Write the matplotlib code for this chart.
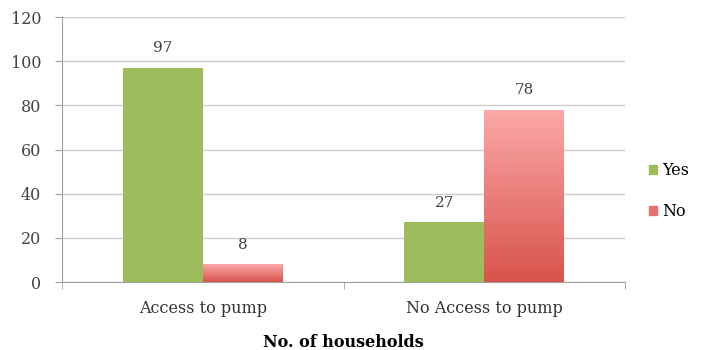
import numpy as np
import matplotlib.pyplot as plt
from matplotlib.colors import LinearSegmentedColormap
from matplotlib.patches import Rectangle

categories = ['Access to pump', 'No Access to pump']
yes_vals = [97, 27]
no_vals = [8, 78]

plt.rcParams['font.family'] = ['DejaVu Serif']

fig = plt.figure(figsize=(7.11, 3.5), dpi=100)
ax = fig.add_axes([0.0872, 0.194, 0.792, 0.757])

x = np.arange(len(categories))
w = 0.284
green = '#9dbd5c'
reds = LinearSegmentedColormap.from_list('reds', ['#d9534c', '#fba9a8'])

yes_bars = ax.bar(x - w / 2, yes_vals, w, color=green, label='Yes', zorder=3)
no_bars = ax.bar(x + w / 2, no_vals, w, color='none', label='No', zorder=3)

# vertical gradient fill for the "No" bars
grad = np.linspace(0, 1, 256).reshape(-1, 1)
for b in no_bars:
    x0, y0 = b.get_x(), b.get_y()
    bw, bh = b.get_width(), b.get_height()
    im = ax.imshow(grad, cmap=reds, origin='lower', aspect='auto',
                   extent=[x0, x0 + bw, y0, y0 + bh], zorder=3)
    im.set_clip_path(b)

for bars, vals in ((yes_bars, yes_vals), (no_bars, no_vals)):
    for b, v in zip(bars, vals):
        ax.annotate(str(v), (b.get_x() + b.get_width() / 2, v), xytext=(0, 9),
                    textcoords='offset points', ha='center', va='bottom',
                    fontsize=11, color='#404040')

ax.set_xlim(-0.5, 1.5)
ax.set_ylim(0, 120)
ax.set_yticks(range(0, 121, 20))
ax.set_xticks(x)
ax.set_xticklabels(categories)
ax.set_xticks([-0.5, 0.5, 1.5], minor=True)
ax.tick_params(axis='x', which='major', length=0, pad=13, labelsize=11.5, labelcolor='#333333')
ax.tick_params(axis='x', which='minor', length=5, color='#a0a0a0')
ax.tick_params(axis='y', length=5, color='#a0a0a0', labelsize=11.5, labelcolor='#444444', pad=10)
ax.grid(axis='y', color='#cccccc', linewidth=1, zorder=0)
for s in ('top', 'right'):
    ax.spines[s].set_visible(False)
for s in ('left', 'bottom'):
    ax.spines[s].set_color('#a0a0a0')

ax.set_xlabel('No. of households', fontsize=11.5, fontweight='bold', labelpad=12)

handles = [Rectangle((0, 0), 1, 1, color=green), Rectangle((0, 0), 1, 1, color='#e8706c')]
fig.legend(handles, ['Yes', 'No'], loc='center left', bbox_to_anchor=(0.893, 0.455),
           frameon=False, fontsize=11.5, handlelength=0.5, handleheight=0.5,
           handletextpad=0.3, labelspacing=1.5)

fig.savefig('out.png', dpi=100)
